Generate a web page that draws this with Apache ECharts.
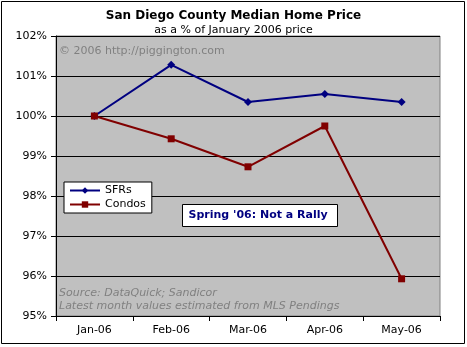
<!DOCTYPE html>
<html><head><meta charset="utf-8">
<script src="https://cdn.jsdelivr.net/npm/echarts@6/dist/echarts.min.js"></script>
<style>html,body{margin:0;padding:0;background:#fff}#c{width:467px;height:347px}</style>
</head><body><div id="c"></div>
<script>
const categories = ['Jan-06','Feb-06','Mar-06','Apr-06','May-06'];
const sfrValues = [100.0, 101.28, 100.35, 100.55, 100.35];
const condoValues = [100.0, 99.43, 98.73, 99.75, 95.93];
const yMin = 95, yMax = 102, yStep = 1;

const chart = echarts.init(document.getElementById('c'), null, {renderer:'canvas'});
const F = 'Verdana, "DejaVu Sans", sans-serif';
chart.setOption({
  animation:false,
  backgroundColor:'#fff',
  title:[
    {text:'San Diego County Median Home Price', left:'center', top:5, textStyle:{fontFamily:F, fontSize:12, fontWeight:'bold', color:'#000'}},
    {text:'as a % of January 2006 price', left:'center', top:20, textStyle:{fontFamily:F, fontSize:11, fontWeight:'normal', color:'#000'}}
  ],
  grid:{left:56, right:27, top:36, bottom:31, show:true, backgroundColor:'#C0C0C0', borderColor:'#808080', borderWidth:1},
  legend:{
    orient:'vertical', left:64, top:182, itemWidth:30, itemHeight:8, itemGap:3,
    backgroundColor:'#fff', borderColor:'#000', borderWidth:1, padding:[3,6,3,5],
    textStyle:{fontFamily:F, fontSize:11, color:'#000'},
    data:['SFRs','Condos']
  },
  xAxis:{
    type:'category', data:categories, boundaryGap:true,
    axisLine:{lineStyle:{color:'#000'}},
    axisTick:{show:true, length:5, lineStyle:{color:'#000'}},
    axisLabel:{fontFamily:F, fontSize:11, color:'#000', margin:9},
    splitLine:{show:false}
  },
  yAxis:{
    type:'value', min:yMin, max:yMax, interval:yStep,
    axisLine:{show:true, lineStyle:{color:'#000'}},
    axisTick:{show:true, length:5, lineStyle:{color:'#000'}},
    axisLabel:{fontFamily:F, fontSize:11, color:'#000', margin:9, formatter:v=>v+'%'},
    splitLine:{show:true, lineStyle:{color:'#000', width:1}}
  },
  series:[
    {name:'SFRs', type:'line', data:sfrValues, color:'#000080', symbol:'diamond', symbolSize:8,
     lineStyle:{width:2, color:'#000080'}, itemStyle:{color:'#000080'}},
    {name:'Condos', type:'line', data:condoValues, color:'#800000', symbol:'rect', symbolSize:7,
     lineStyle:{width:2, color:'#800000'}, itemStyle:{color:'#800000'}}
  ],
  graphic:[
    {type:'rect', shape:{x:1.5, y:1.5, width:463, height:342}, style:{fill:null, stroke:'#000', lineWidth:1}, silent:true, z:-1},
    {type:'text', left:59, top:46, style:{text:'© 2006 http://piggington.com', fontFamily:F, fontSize:11, fill:'#808080'}},
    {type:'text', left:59, top:287, style:{text:'Source: DataQuick; Sandicor\nLatest month values estimated from MLS Pendings', fontFamily:F, fontSize:11, fontStyle:'italic', fill:'#808080', lineHeight:13}},
    {type:'group', left:182, top:204, children:[
      {type:'rect', shape:{x:0, y:0, width:155, height:22}, style:{fill:'#fff', stroke:'#000', lineWidth:1}},
      {type:'text', x:6, y:5, style:{text:"Spring '06: Not a Rally", fontFamily:F, fontSize:11, fontWeight:'bold', fill:'#000080'}}
    ]}
  ]
});
</script></body></html>
